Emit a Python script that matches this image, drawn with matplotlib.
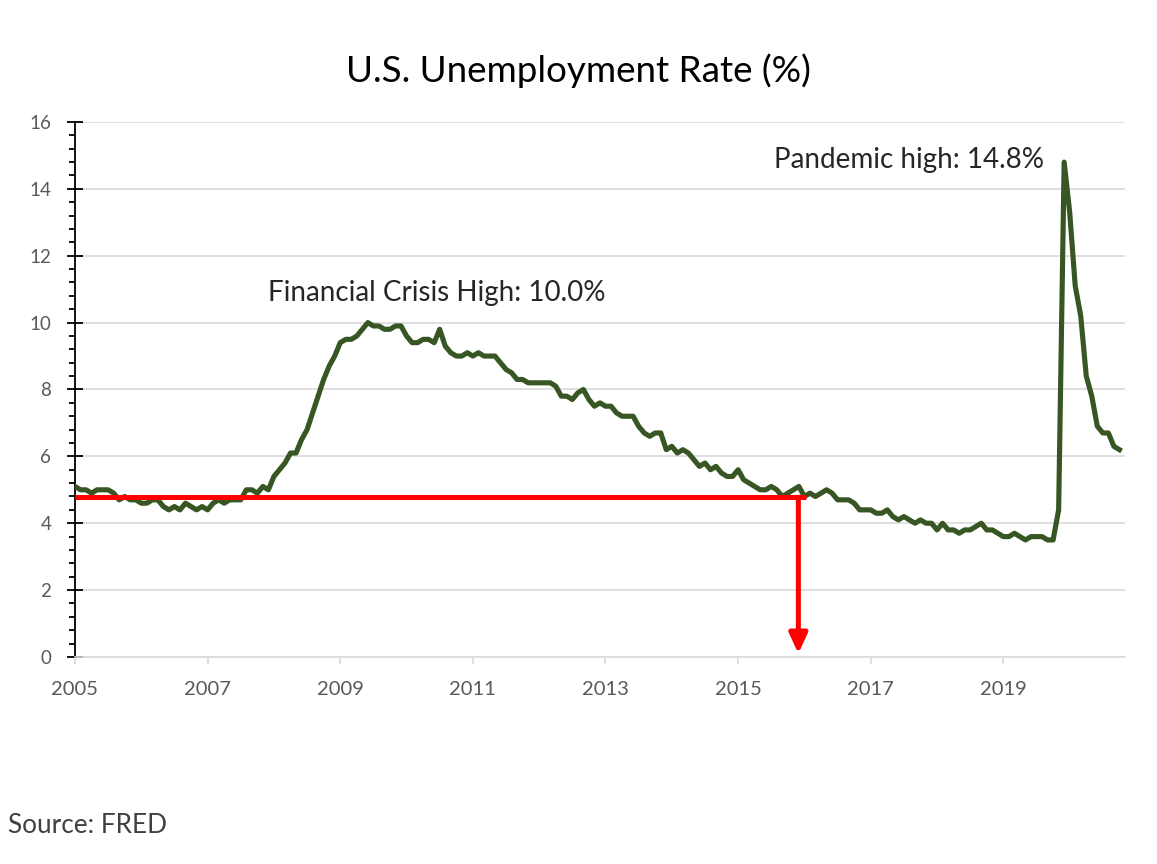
import matplotlib

matplotlib.use("Agg")
import matplotlib.pyplot as plt
import numpy as np
from matplotlib.ticker import MultipleLocator

# monthly unemployment rate, May 2005 .. Feb 2021
rate = [
    5.1, 5.0, 5.0, 4.9, 5.0, 5.0, 5.0, 4.9,
    4.7, 4.8, 4.7, 4.7, 4.6, 4.6, 4.7, 4.7, 4.5, 4.4, 4.5, 4.4,
    4.6, 4.5, 4.4, 4.5, 4.4, 4.6, 4.7, 4.6, 4.7, 4.7, 4.7, 5.0,
    5.0, 4.9, 5.1, 5.0, 5.4, 5.6, 5.8, 6.1, 6.1, 6.5, 6.8, 7.3,
    7.8, 8.3, 8.7, 9.0, 9.4, 9.5, 9.5, 9.6, 9.8, 10.0, 9.9, 9.9,
    9.8, 9.8, 9.9, 9.9, 9.6, 9.4, 9.4, 9.5, 9.5, 9.4, 9.8, 9.3,
    9.1, 9.0, 9.0, 9.1, 9.0, 9.1, 9.0, 9.0, 9.0, 8.8, 8.6, 8.5,
    8.3, 8.3, 8.2, 8.2, 8.2, 8.2, 8.2, 8.1, 7.8, 7.8, 7.7, 7.9,
    8.0, 7.7, 7.5, 7.6, 7.5, 7.5, 7.3, 7.2, 7.2, 7.2, 6.9, 6.7,
    6.6, 6.7, 6.7, 6.2, 6.3, 6.1, 6.2, 6.1, 5.9, 5.7, 5.8, 5.6,
    5.7, 5.5, 5.4, 5.4, 5.6, 5.3, 5.2, 5.1, 5.0, 5.0, 5.1, 5.0,
    4.8, 4.9, 5.0, 5.1, 4.8, 4.9, 4.8, 4.9, 5.0, 4.9, 4.7, 4.7,
    4.7, 4.6, 4.4, 4.4, 4.4, 4.3, 4.3, 4.4, 4.2, 4.1, 4.2, 4.1,
    4.0, 4.1, 4.0, 4.0, 3.8, 4.0, 3.8, 3.8, 3.7, 3.8, 3.8, 3.9,
    4.0, 3.8, 3.8, 3.7, 3.6, 3.6, 3.7, 3.6, 3.5, 3.6, 3.6, 3.6,
    3.5, 3.5, 4.4, 14.8, 13.3, 11.1, 10.2, 8.4, 7.8, 6.9, 6.7, 6.7,
    6.3, 6.2,
]

# category axis: a year label every 24 points
year_labels = ["2005", "2007", "2009", "2011", "2013", "2015", "2017", "2019"]
label_step = 24

# red marker: horizontal level and the point it drops to
marker_level = 4.78
marker_end = 132.2
marker_drop = 130.9

TEXT_GRAY = "#595959"
LINE_GREEN = "#375623"

plt.rcParams["font.family"] = ["Lato", "DejaVu Sans"]

fig = plt.figure(figsize=(11.57, 8.64), dpi=100)
ax = fig.add_axes([0.0648, 0.2396, 0.9075, 0.6192])

xs = np.arange(len(rate))
ax.plot(xs, rate, color=LINE_GREEN, linewidth=3.7, solid_joinstyle="round", zorder=3)

ax.set_xlim(0, 190)
ax.set_ylim(0, 16)

ax.yaxis.set_major_locator(MultipleLocator(2))
ax.yaxis.set_minor_locator(MultipleLocator(0.4))
ax.grid(axis="y", which="major", color="#d9d9d9", linewidth=1.2, zorder=0)

ax.set_xticks(np.arange(len(year_labels)) * label_step)
ax.set_xticklabels(year_labels)

for s in ("top", "right"):
    ax.spines[s].set_visible(False)
ax.spines["bottom"].set_color("#d9d9d9")
ax.spines["bottom"].set_linewidth(1.2)
ax.spines["left"].set_color("black")
ax.spines["left"].set_linewidth(1.3)

ax.tick_params(axis="y", which="major", direction="inout", length=12, width=1.3,
               color="black", labelsize=13.5, labelcolor=TEXT_GRAY, pad=11)
ax.tick_params(axis="y", which="minor", direction="out", length=4, width=1.3, color="black")
ax.tick_params(axis="x", which="major", direction="out", length=5, width=1.2,
               color="#d9d9d9", labelsize=14.5, labelcolor=TEXT_GRAY, pad=12)

# red level line with arrow down to the axis
ax.plot([0, marker_end], [marker_level, marker_level], color="#ff0000", linewidth=3.6,
        solid_capstyle="butt", zorder=4)
ax.annotate("", xy=(marker_drop, 0.1), xytext=(marker_drop, marker_level),
            arrowprops=dict(arrowstyle="-|>,head_width=0.55,head_length=1.2",
                            color="#ff0000", linewidth=3.6, shrinkA=0, shrinkB=0),
            zorder=4)

ax.text(34.9, 10.9, "Financial Crisis High: 10.0%", fontsize=20, color="#262626",
        ha="left", va="center")
ax.text(175.4, 14.85, "Pandemic high: 14.8%", fontsize=20, color="#262626",
        ha="right", va="center")

fig.text(0.5, 0.918, "U.S. Unemployment Rate (%)", fontsize=26.5, color="black",
         ha="center", va="center")
fig.text(0.007, 0.045, "Source: FRED", fontsize=18.8, color="#404040",
         ha="left", va="center")

fig.savefig("out.png", dpi=100)
